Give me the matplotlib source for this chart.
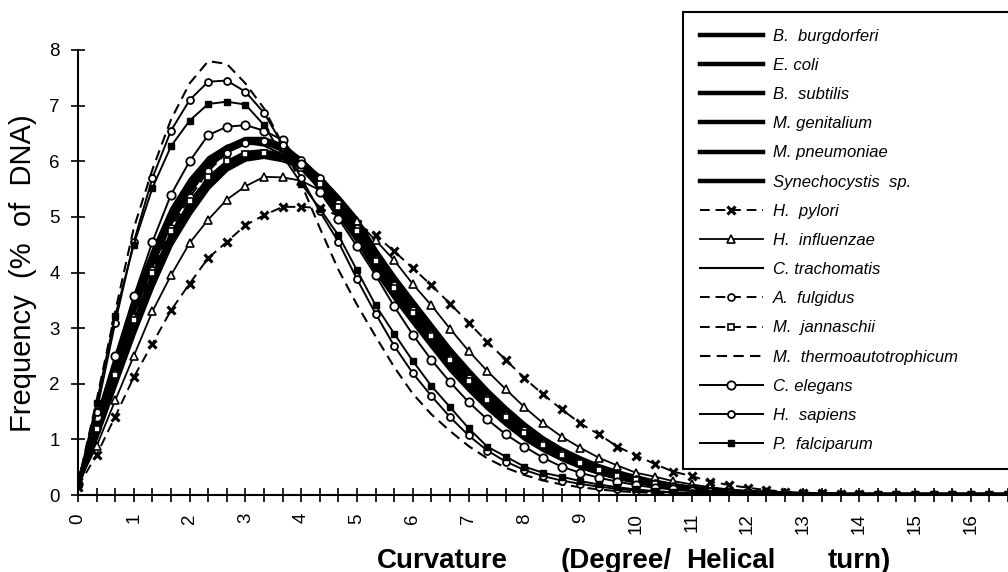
import numpy as np
import matplotlib
matplotlib.use("Agg")
import matplotlib.pyplot as plt
from matplotlib.ticker import MultipleLocator

plt.rcParams['font.family'] = ['Liberation Sans', 'DejaVu Sans']

# curvature categories: 51 bins, 1/3 degree apart (labels every 3rd bin)
n_bins = 51
tick_labels = [str(v) for v in range(17)]

b_burgdorferi = [0.20, 1.30, 2.38, 3.45, 4.30, 5.05, 5.60, 6.00, 6.25, 6.37,
                 6.35, 6.20, 5.92, 5.58, 5.10, 4.63, 4.08, 3.60, 3.16, 2.73,
                 2.30, 1.94, 1.60, 1.30, 1.03, 0.82, 0.65, 0.51, 0.40, 0.31,
                 0.24, 0.18, 0.13, 0.10, 0.07, 0.05, 0.04, 0.03, 0.02, 0.01,
                 0.01, 0, 0, 0, 0, 0, 0, 0, 0, 0, 0]
e_coli = [0.20, 1.25, 2.28, 3.30, 4.15, 4.90, 5.45, 5.90, 6.18, 6.33,
          6.33, 6.22, 6.02, 5.70, 5.25, 4.80, 4.25, 3.77, 3.33, 2.90,
          2.47, 2.10, 1.75, 1.45, 1.16, 0.93, 0.75, 0.59, 0.47, 0.36,
          0.28, 0.21, 0.16, 0.12, 0.08, 0.06, 0.04, 0.03, 0.02, 0.01,
          0.01, 0, 0, 0, 0, 0, 0, 0, 0, 0, 0]
b_subtilis = [0.20, 1.12, 2.10, 3.08, 3.93, 4.68, 5.23, 5.68, 5.98, 6.15,
              6.18, 6.10, 5.95, 5.72, 5.32, 4.90, 4.35, 3.87, 3.43, 2.99,
              2.56, 2.18, 1.82, 1.51, 1.22, 0.98, 0.79, 0.63, 0.50, 0.39,
              0.30, 0.23, 0.17, 0.12, 0.09, 0.06, 0.05, 0.03, 0.02, 0.01,
              0.01, 0, 0, 0, 0, 0, 0, 0, 0, 0, 0]
m_genitalium = [0.20, 1.05, 1.98, 2.90, 3.75, 4.50, 5.05, 5.52, 5.85, 6.03,
                6.08, 6.02, 5.90, 5.70, 5.35, 4.95, 4.40, 3.92, 3.48, 3.05,
                2.62, 2.24, 1.88, 1.56, 1.27, 1.02, 0.82, 0.66, 0.52, 0.41,
                0.32, 0.24, 0.18, 0.13, 0.10, 0.07, 0.05, 0.04, 0.03, 0.02,
                0.01, 0, 0, 0, 0, 0, 0, 0, 0, 0, 0]
m_pneumoniae = [0.20, 1.10, 2.05, 3.00, 3.85, 4.60, 5.15, 5.60, 5.93, 6.10,
                6.13, 6.05, 5.90, 5.65, 5.27, 4.85, 4.30, 3.82, 3.38, 2.95,
                2.52, 2.15, 1.79, 1.48, 1.19, 0.96, 0.77, 0.61, 0.48, 0.38,
                0.29, 0.22, 0.16, 0.12, 0.09, 0.06, 0.04, 0.03, 0.02, 0.01,
                0.01, 0, 0, 0, 0, 0, 0, 0, 0, 0, 0]
synechocystis = [0.20, 1.28, 2.33, 3.38, 4.23, 4.98, 5.53, 5.97, 6.25, 6.40,
                 6.40, 6.28, 6.02, 5.65, 5.17, 4.72, 4.17, 3.69, 3.25, 2.82,
                 2.39, 2.02, 1.68, 1.38, 1.10, 0.88, 0.70, 0.56, 0.44, 0.34,
                 0.26, 0.19, 0.14, 0.10, 0.07, 0.05, 0.04, 0.03, 0.02, 0.01,
                 0.01, 0, 0, 0, 0, 0, 0, 0, 0, 0, 0]
h_pylori = [0.15, 0.72, 1.41, 2.12, 2.72, 3.32, 3.80, 4.26, 4.55, 4.85,
            5.03, 5.18, 5.18, 5.16, 5.02, 4.87, 4.67, 4.38, 4.08, 3.77,
            3.44, 3.10, 2.75, 2.43, 2.10, 1.81, 1.54, 1.29, 1.09, 0.87,
            0.71, 0.56, 0.42, 0.34, 0.24, 0.18, 0.13, 0.09, 0.06, 0.04,
            0.03, 0.02, 0.01, 0, 0, 0, 0, 0, 0, 0, 0]
h_influenzae = [0.20, 0.88, 1.70, 2.50, 3.30, 3.95, 4.53, 4.95, 5.31, 5.55,
                5.72, 5.71, 5.65, 5.48, 5.22, 4.92, 4.58, 4.22, 3.79, 3.41,
                2.99, 2.59, 2.23, 1.90, 1.58, 1.29, 1.05, 0.85, 0.67, 0.53,
                0.40, 0.33, 0.25, 0.19, 0.14, 0.10, 0.07, 0.05, 0.03, 0.02,
                0.01, 0, 0, 0, 0, 0, 0, 0, 0, 0, 0]
c_trachomatis = [0.20, 1.35, 2.45, 3.55, 4.40, 5.15, 5.68, 6.07, 6.28, 6.33,
                 6.28, 6.12, 5.85, 5.50, 5.02, 4.55, 4.00, 3.52, 3.08, 2.65,
                 2.23, 1.87, 1.54, 1.25, 0.99, 0.79, 0.63, 0.49, 0.38, 0.30,
                 0.23, 0.17, 0.12, 0.09, 0.07, 0.05, 0.03, 0.02, 0.02, 0.01,
                 0.01, 0, 0, 0, 0, 0, 0, 0, 0, 0, 0]
a_fulgidus = [0.20, 1.20, 2.20, 3.20, 4.05, 4.80, 5.35, 5.82, 6.15, 6.33,
              6.37, 6.25, 6.02, 5.70, 5.25, 4.80, 4.25, 3.77, 3.33, 2.90,
              2.47, 2.10, 1.75, 1.44, 1.16, 0.93, 0.75, 0.59, 0.47, 0.36,
              0.28, 0.21, 0.16, 0.12, 0.08, 0.06, 0.04, 0.03, 0.02, 0.01,
              0.01, 0, 0, 0, 0, 0, 0, 0, 0, 0, 0]
m_jannaschii = [0.20, 1.18, 2.15, 3.14, 3.99, 4.74, 5.28, 5.72, 6.00, 6.13,
                6.14, 6.05, 5.87, 5.60, 5.18, 4.75, 4.20, 3.72, 3.28, 2.85,
                2.42, 2.05, 1.70, 1.40, 1.12, 0.90, 0.72, 0.57, 0.45, 0.35,
                0.27, 0.20, 0.15, 0.11, 0.08, 0.06, 0.04, 0.03, 0.02, 0.01,
                0.01, 0, 0, 0, 0, 0, 0, 0, 0, 0, 0]
m_thermoautotrophicum = [0.20, 1.70, 3.30, 4.80, 5.85, 6.75, 7.40, 7.80, 7.75, 7.40,
                         6.95, 6.30, 5.60, 4.80, 4.05, 3.42, 2.85, 2.30, 1.82, 1.45,
                         1.15, 0.88, 0.66, 0.49, 0.36, 0.26, 0.19, 0.14, 0.10, 0.07,
                         0.05, 0.04, 0.03, 0.02, 0.01, 0.01, 0, 0, 0, 0,
                         0, 0, 0, 0, 0, 0, 0, 0, 0, 0, 0]
c_elegans = [0.20, 1.40, 2.50, 3.57, 4.55, 5.40, 6.00, 6.47, 6.62, 6.65,
             6.55, 6.38, 5.95, 5.45, 4.97, 4.47, 3.95, 3.39, 2.88, 2.43,
             2.03, 1.67, 1.36, 1.09, 0.87, 0.67, 0.51, 0.40, 0.31, 0.24,
             0.18, 0.13, 0.10, 0.07, 0.05, 0.04, 0.03, 0.02, 0.01, 0.01,
             0, 0, 0, 0, 0, 0, 0, 0, 0, 0, 0]
h_sapiens = [0.20, 1.50, 3.10, 4.55, 5.70, 6.55, 7.10, 7.43, 7.45, 7.25,
             6.87, 6.30, 5.70, 5.10, 4.55, 3.88, 3.26, 2.68, 2.19, 1.78,
             1.40, 1.07, 0.80, 0.60, 0.45, 0.34, 0.26, 0.20, 0.15, 0.11,
             0.08, 0.06, 0.04, 0.03, 0.02, 0.01, 0.01, 0, 0, 0,
             0, 0, 0, 0, 0, 0, 0, 0, 0, 0, 0]
p_falciparum = [0.20, 1.65, 3.22, 4.50, 5.52, 6.27, 6.73, 7.03, 7.07, 7.02,
                6.65, 6.10, 5.60, 5.15, 4.67, 4.04, 3.41, 2.90, 2.41, 1.96,
                1.58, 1.20, 0.87, 0.69, 0.51, 0.40, 0.33, 0.25, 0.19, 0.14,
                0.10, 0.07, 0.05, 0.04, 0.03, 0.02, 0.01, 0.01, 0, 0,
                0, 0, 0, 0, 0, 0, 0, 0, 0, 0, 0]

x = np.arange(n_bins) / 3.0

fig = plt.figure(figsize=(10.08, 5.72), dpi=100)
ax = fig.add_axes([78/1008, 1 - 495/572, (1008 - 78)/1008, (495 - 50)/572])

dash = (0, (5, 3))
thick = 3.2
series = [
    ("B.  burgdorferi", b_burgdorferi, dict(ls='-', lw=thick, marker=None)),
    ("E. coli", e_coli, dict(ls='-', lw=thick, marker=None)),
    ("B.  subtilis", b_subtilis, dict(ls='-', lw=thick, marker=None)),
    ("M. genitalium", m_genitalium, dict(ls='-', lw=thick, marker=None)),
    ("M. pneumoniae", m_pneumoniae, dict(ls='-', lw=thick, marker=None)),
    ("Synechocystis  sp.", synechocystis, dict(ls='-', lw=thick, marker=None)),
    ("H.  pylori", h_pylori, dict(ls=dash, lw=1.4, marker='x', ms=6, mew=2.2)),
    ("H.  influenzae", h_influenzae, dict(ls='-', lw=1.3, marker='^', ms=5.5, mfc='white', mew=1.2)),
    ("C. trachomatis", c_trachomatis, dict(ls='-', lw=1.5, marker=None)),
    ("A.  fulgidus", a_fulgidus, dict(ls=dash, lw=1.4, marker='o', ms=5, mfc='white', mew=1.2)),
    ("M.  jannaschii", m_jannaschii, dict(ls=dash, lw=1.4, marker='s', ms=5, mfc='white', mew=1.2)),
    ("M.  thermoautotrophicum", m_thermoautotrophicum, dict(ls=dash, lw=1.5, marker=None)),
    ("C. elegans", c_elegans, dict(ls='-', lw=1.4, marker='o', ms=6, mfc='white', mew=1.3)),
    ("H.  sapiens", h_sapiens, dict(ls='-', lw=1.4, marker='o', ms=5, mfc='white', mew=1.3)),
    ("P.  falciparum", p_falciparum, dict(ls='-', lw=1.4, marker='s', ms=5, mfc='black', mew=1.0)),
]

handles = []
for name, vals, st in series:
    z = 2 if st.get('marker') is None and st['lw'] > 2 else 3
    h, = ax.plot(x, vals, color='black', label=name, zorder=z, **st)
    handles.append(h)

ax.set_xlim(0, 50/3)
ax.set_ylim(0, 8)
ax.set_xticks(range(17))
ax.set_xticklabels(tick_labels, rotation=90, fontsize=13.5)
ax.xaxis.set_minor_locator(MultipleLocator(1/3))
ax.set_yticks(range(9))
ax.set_yticklabels([str(v) for v in range(9)], fontsize=13.5)
ax.tick_params(axis='both', which='both', direction='inout', length=10, width=1.2, color='black')
ax.tick_params(axis='x', which='major', pad=8)
ax.tick_params(axis='y', which='major', pad=8)
for s in ['top', 'right']:
    ax.spines[s].set_visible(False)
for s in ['left', 'bottom']:
    ax.spines[s].set_linewidth(1.5)
ax.patch.set_alpha(0)

fig.text(23/1008, 1 - 273/572, "Frequency  (%  of  DNA)", rotation=90,
         ha='center', va='center', fontsize=21)
# x-axis title, words spread as in the original
xlab_words = ["Curvature", "(Degree/", "Helical", "turn)"]
xlab_left_px = [377, 561, 686, 828]
for w, px in zip(xlab_words, xlab_left_px):
    fig.text(px/1008, 1 - 568/572, w, ha='left', va='baseline',
             fontsize=20, fontweight='bold')

leg = fig.legend(handles=handles, loc='upper left',
                 bbox_to_anchor=(683/1008, 1 - 468/572, 330/1008, 456/572),
                 mode='expand', bbox_transform=fig.transFigure, borderaxespad=0,
                 frameon=True, fancybox=False, edgecolor='black', framealpha=1,
                 numpoints=1, handlelength=3.8, handletextpad=0.6,
                 labelspacing=0.85, borderpad=1.0,
                 prop={'style': 'italic', 'size': 12, 'family': 'Liberation Sans'})
leg.get_frame().set_linewidth(1.5)

fig.savefig("out.png", dpi=100)
